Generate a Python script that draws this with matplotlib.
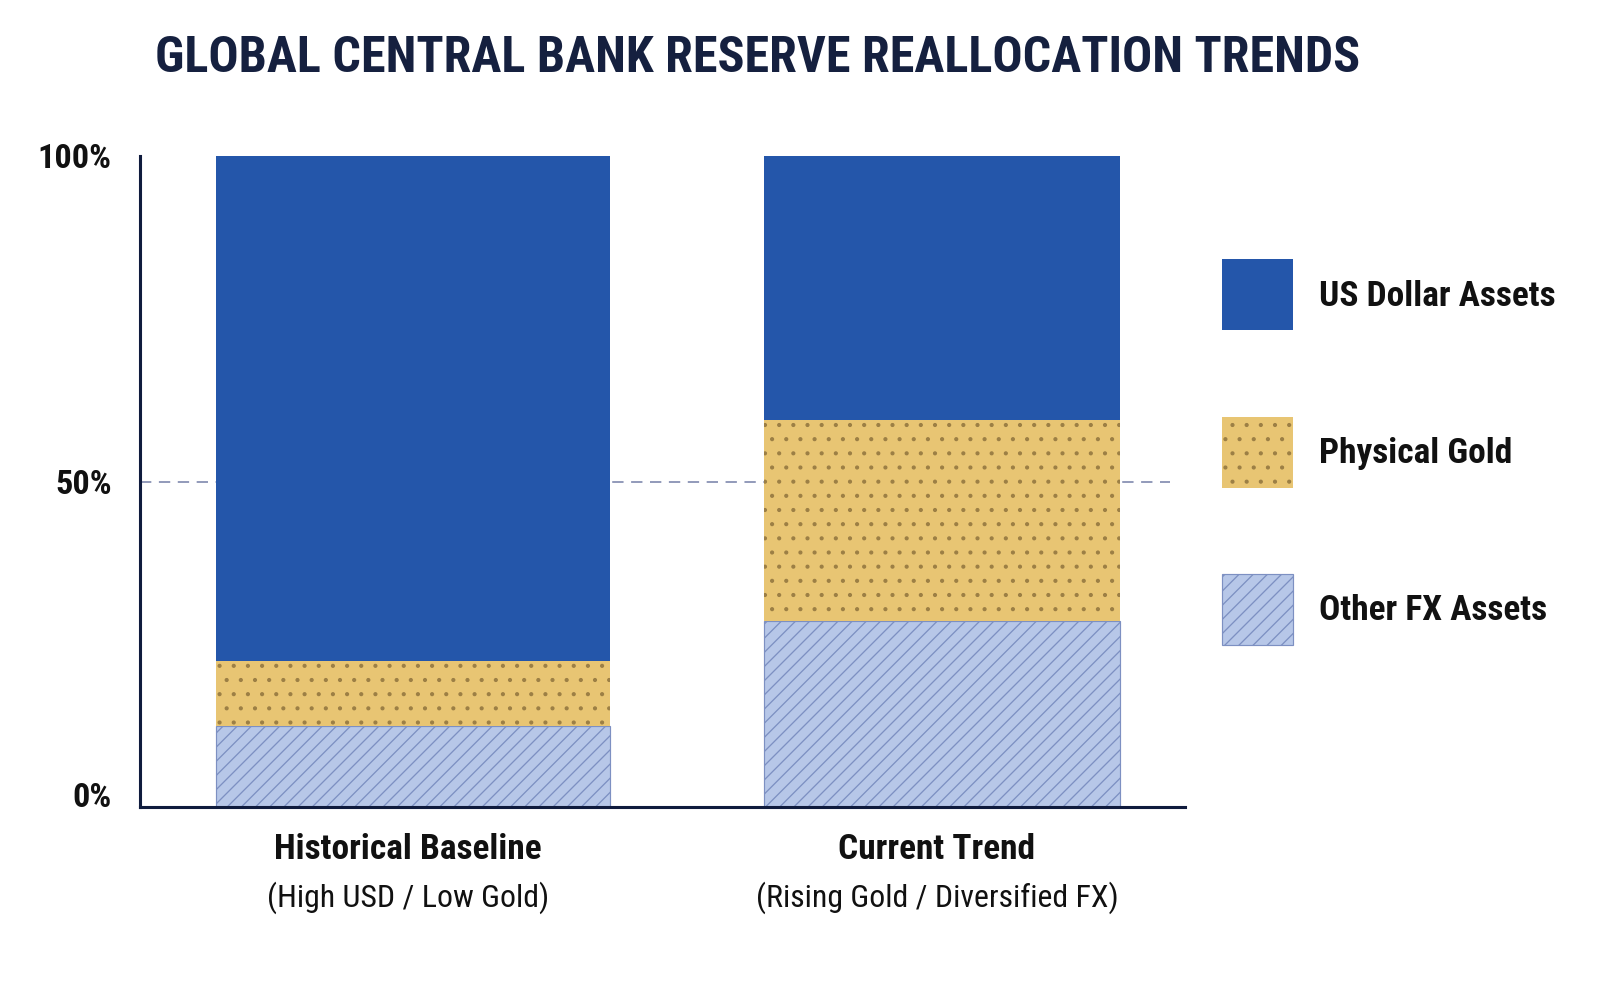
import matplotlib
matplotlib.use("Agg")
import matplotlib.pyplot as plt
from matplotlib.patches import Rectangle
from matplotlib import font_manager as fm

# ---------------- data ----------------
categories = ["Historical Baseline", "Current Trend"]
subtitles = ["(High USD / Low Gold)", "(Rising Gold / Diversified FX)"]
series_names = ["US Dollar Assets", "Physical Gold", "Other FX Assets"]
other_fx = [12.5, 28.5]
gold = [10.0, 31.0]
usd = [77.5, 40.5]
y_ticks = [0, 50, 100]
y_tick_labels = ["0%", "50%", "100%"]
title = "GLOBAL CENTRAL BANK RESERVE REALLOCATION TRENDS"

# ---------------- style ----------------
names = {f.name for f in fm.fontManager.ttflist}
FONT = "DejaVu Sans"
for cand in ["Roboto Condensed", "Liberation Sans Narrow", "Arial Narrow", "Roboto", "Liberation Sans"]:
    if cand in names:
        FONT = cand
        break
plt.rcParams["font.family"] = [FONT, "DejaVu Sans"]
plt.rcParams["hatch.linewidth"] = 1.1

C_USD = "#2456aa"
C_GOLD = "#e8c573"
C_GOLD_DOT = "#9c7f45"
C_FX = "#b7c7e8"
C_FX_LINE = "#7d90c2"
C_AXIS = "#0f1b3d"
C_TITLE = "#15203f"
C_TEXT = "#111111"

DPI = 85
W, H = 1602, 982
fig = plt.figure(figsize=(W / DPI, H / DPI), dpi=DPI)
fig.patch.set_facecolor("white")

ax = fig.add_axes([140 / W, 1 - 807 / H, (1185 - 140) / W, (807 - 156) / H])
x = [0, 1]
widths = [0.743, 0.673]

ax.axhline(50, xmin=0, xmax=0.986, color="#8e97b8", lw=1.6, ls=(0, (6, 4)), zorder=0)

ax.bar(x, other_fx, width=widths, color=C_FX, edgecolor=C_FX_LINE, hatch="//", lw=1.0,
       zorder=2, label=series_names[2])
ax.bar(x, gold, bottom=other_fx, width=widths, color=C_GOLD, edgecolor=C_GOLD_DOT,
       hatch=".", lw=0, zorder=2, label=series_names[1])
bottoms2 = [a + b for a, b in zip(other_fx, gold)]
ax.bar(x, usd, bottom=bottoms2, width=widths, color=C_USD, edgecolor=C_USD, lw=0,
       zorder=2, label=series_names[0])

ax.set_xlim(-0.516, 1.459)
ax.set_ylim(0, 100)
for s in ["top", "right"]:
    ax.spines[s].set_visible(False)
for s in ["left", "bottom"]:
    ax.spines[s].set_color(C_AXIS)
    ax.spines[s].set_linewidth(2.6)
ax.set_yticks(y_ticks)
ax.set_yticklabels(y_tick_labels, fontsize=29, fontweight="bold", color=C_TEXT)
ax.get_yticklabels()[0].set_va("baseline")
ax.tick_params(axis="y", length=0, pad=24)
ax.set_xticks([])

for xi, cat, sub in zip(x, categories, subtitles):
    ax.text(xi - 0.01, -0.066, cat, transform=ax.get_xaxis_transform(), ha="center", va="center",
            fontsize=30, fontweight="bold", color=C_TEXT)
    ax.text(xi - 0.01, -0.139, sub, transform=ax.get_xaxis_transform(), ha="center", va="center",
            fontsize=27, color=C_TEXT)

fig.text(155 / W, 1 - 59 / H, title, ha="left", va="center", fontsize=42.5,
         fontweight="bold", color=C_TITLE)

# ---------------- legend (manual, pixel overlay) ----------------
lax = fig.add_axes([0, 0, 1, 1], facecolor="none")
lax.set_xlim(0, W)
lax.set_ylim(H, 0)
lax.axis("off")
leg_styles = [
    dict(facecolor=C_USD, edgecolor=C_USD, lw=0),
    dict(facecolor=C_GOLD, edgecolor=C_GOLD_DOT, hatch=".", lw=0),
    dict(facecolor=C_FX, edgecolor=C_FX_LINE, hatch="//", lw=1.0),
]
leg_tops = [259, 417, 574]
for name, st, top in zip(series_names, leg_styles, leg_tops):
    lax.add_patch(Rectangle((1222, top), 71, 71, **st))
    lax.text(1319, top + 37, name, ha="left", va="center", fontsize=30,
             fontweight="bold", color=C_TEXT)

fig.savefig("out.png", dpi=DPI, facecolor="white")
